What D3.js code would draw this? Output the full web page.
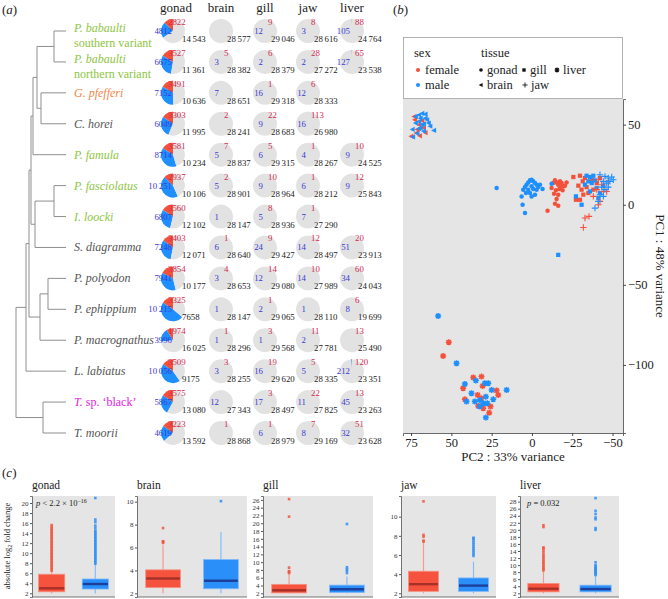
<!DOCTYPE html>
<html>
<head>
<meta charset="utf-8">
<script src="https://cdn.jsdelivr.net/npm/d3@7"></script>
<style>
  body { margin: 0; background: #fff; }
  svg, svg text { font-family: 'Liberation Serif', 'DejaVu Serif', 'Times New Roman', Times, serif; }
</style>
</head>
<body>
<svg id="fig" width="668" height="599"></svg>
<script>
/* ---------- Data: panel (a) ---------- */
const species = ['babS', 'babN', 'pfefferi', 'horei', 'famula', 'fasciolatus', 'loocki',
  'diagramma', 'polyodon', 'ephippium', 'macrognathus', 'labiatus', 'Tsp', 'moorii'];
const speciesLabels = [
  ['P. babaulti', 'southern variant'], ['P. babaulti', 'northern variant'], ['G. pfefferi'],
  ['C. horei'], ['P. famula'], ['P. fasciolatus'], ['I. loocki'], ['S. diagramma'],
  ['P. polyodon'], ['P. ephippium'], ['P. macrognathus'], ['L. labiatus'],
  ['T.', ' sp. \u2018black\u2019'], ['T. moorii']];
const speciesGroup = ['green', 'green', 'orange', 'grey', 'green', 'green', 'green',
  'grey', 'grey', 'grey', 'grey', 'grey', 'magenta', 'grey'];

// tree: d = depth from root (arbitrary units), c = children
const tree = {d: 0, c: [
  {d: 10, c: [
    {d: 13, c: [
      {d: 15, c: [
        {d: 17, c: [
          {d: 21, c: [{d: 38, c: ['babS', 'babN']}, {d: 25, c: ['pfefferi', 'horei']}]},
          'famula']},
        {d: 19, c: [{d: 38, c: ['fasciolatus', 'loocki']}, 'diagramma']}]},
      {d: 24, c: [{d: 32, c: ['polyodon', 'ephippium']}, 'macrognathus']}]},
    'labiatus']},
  {d: 27, c: ['Tsp', 'moorii']}]};
const tipDepth = 50;

const tissues = ['gonad', 'brain', 'gill', 'jaw', 'liver'];
// [female-biased, male-biased, unbiased]; null = tissue not sampled
const gonadCounts = [[2822, 4812, 14543], [3527, 6675, 11361], [3491, 7152, 10636], [3303, 6049, 11995],
  [3581, 8714, 10234], [2937, 10251, 10106], [3560, 6807, 12102], [3403, 7248, 12071],
  [3854, 7941, 10177], [3325, 10215, 7658], [1974, 3996, 16025], [3509, 10056, 9175],
  [3575, 5867, 13080], [3223, 4619, 13592]];
const brainCounts = [[0, 0, 28577], [5, 3, 28382], [0, 7, 28651], [2, 0, 28241], [7, 5, 28837],
  [2, 5, 28901], [0, 1, 28147], [1, 6, 28640], [4, 3, 28653], [0, 1, 28147], [1, 1, 28296],
  [3, 3, 28255], [0, 12, 27343], [1, 0, 28868]];
const gillCounts = [[9, 12, 29046], [6, 2, 28379], [1, 16, 29318], [22, 9, 28683], [5, 6, 29315],
  [10, 9, 28964], [8, 5, 28936], [9, 24, 29427], [14, 12, 29080], [1, 2, 29065], [3, 1, 29568],
  [19, 16, 29620], [3, 17, 28497], [1, 6, 28979]];
const jawCounts = [[8, 3, 28616], [28, 2, 27272], [6, 12, 28333], [113, 16, 26980], [1, 4, 28267],
  [1, 6, 28212], [1, 7, 27290], [12, 14, 28497], [10, 14, 27989], [0, 1, 28110], [11, 2, 27781],
  [5, 5, 28335], [22, 11, 27825], [7, 8, 29169]];
const liverCounts = [[88, 105, 24764], [65, 127, 23538], null, null, [10, 9, 24525], [12, 9, 25843],
  null, [20, 51, 23913], [60, 34, 24043], [6, 8, 19699], [13, 0, 25490], [120, 212, 23351],
  [13, 45, 23263], [51, 32, 23628]];

/* ---------- Data: panel (b) PCA, [PC2, PC1] ---------- */
const pcaGonadF = [[-12.2, 10.4], [-13.2, 13.5], [-14.3, 15.2], [-15.3, 13.9], [-16.3, 12.5], [-17.4, 14.6],
  [-18.4, 13.5], [-19.5, 11.5], [-17.0, 9.8], [-14.9, 9.0], [-19.0, 9.0], [-13.7, 6.9], [-16.3, 6.3],
  [-15.3, 3.5], [-14.3, 0.6], [-16.3, -0.6], [-9.7, -3.8], [-20.5, 11.9], [-21.5, 13.9], [-17.8, 11.0]];
const pcaGonadM = [[6.4, 5.2], [5.4, 9.4], [4.3, 11.0], [3.3, 12.5], [2.3, 13.9], [1.2, 15.2], [0.2, 15.6],
  [-0.8, 14.6], [-1.9, 13.5], [-2.9, 12.5], [-3.9, 11.0], [-5.0, 12.5], [0.2, 11.5], [2.3, 9.4], [-0.8, 9.8],
  [1.2, 7.3], [-2.9, 9.4], [3.7, 7.3], [0.2, 5.2], [-1.9, 6.3], [21.9, 10.4], [5.8, 0.0], [4.3, -5.2],
  [-12.2, 13.1], [-6.6, 9.8]];
const pcaBrainF = [[72.6, 53], [71.6, 44.8], [69.5, 43], [74.8, 42.7], [70, 50], [73, 55], [67, 48],
  [68, 52.5], [66, 45], [71, 47]];
const pcaBrainM = [[70, 52], [66, 54], [68, 50], [72, 55], [64, 51], [69, 48], [74, 47], [67, 46],
  [71, 44.5], [63, 49], [60.7, 46.4], [73.7, 42.3], [65, 53], [70, 56], [68, 57], [66, 56.5], [69, 54],
  [72, 51], [67, 50.5], [70, 47.5]];
const pcaGillF = [[-25.7, 17.3], [-29.8, 18.1], [-31.5, 14.6], [-28.8, 11.9], [-30.8, 9.4], [-31.9, 6.3],
  [-29.8, 3.1], [-27.3, 3.1], [-33.9, 11.0], [-37.1, 15.6], [-40.2, 13.5], [-42.2, 16.7], [-38.1, 9.4],
  [-32.9, 16.7], [-35.0, 7.3]];
const pcaGillM = [[-33.9, 18.1], [-36.0, 17.3], [-38.1, 18.1], [-35.0, 14.6], [-37.1, 13.5], [-39.1, 15.2],
  [-32.9, 12.5], [-40.2, 10.4], [-36.0, 8.3], [-42.2, 7.3], [-41.2, 4.2], [-27.3, 5.2], [-30.8, 0.0],
  [-16.3, -31.3], [-44.3, 11.9]];
const pcaJawF = [[-32.9, -8.3], [-31.9, -14.2], [-35.4, -7.3], [-41.2, 0.0], [-42.2, 2.1], [-40.2, 9.4],
  [-43.3, 12.5], [-46.4, 8.3], [-38.1, 5.2], [-44.3, 8.3], [-41.2, 15.6], [-47.4, 14.6]];
const pcaJawM = [[-42.2, 18.75], [-45.3, 17.7], [-47.4, 16.7], [-49.5, 17.3], [-44.3, 14.6], [-46.4, 13.5],
  [-48.4, 14.6], [-43.3, 11.0], [-45.3, 9.4], [-42.2, 6.3], [-44.3, 5.2], [-47.4, 11.0], [-41.2, 2.1],
  [-39.1, -2.1], [-50.5, 15.6]];
const pcaLiverF = [[36.4, -107.9], [31.3, -107.3], [30.6, -113.1], [42.7, -114.6], [41.6, -121.5],
  [33.7, -118.8], [33.3, -125.6], [30.2, -127.1], [26.5, -129.8], [25.7, -126.0], [21.9, -116.0],
  [20.9, -118.8], [31.3, -120.8], [51.6, -85.8], [55.1, -94.4]];
const pcaLiverM = [[41.6, -111.9], [34.8, -109.8], [37.5, -117.7], [40.6, -122.9], [29.2, -111.5],
  [27.1, -111.5], [32.3, -121.9], [28.6, -119.8], [27.7, -123.9], [25.0, -115.6], [24.0, -121.5],
  [15.7, -115.6], [28.6, -132.9], [32.3, -126.0], [35.4, -122.9], [30.2, -123.9], [58.2, -69.4],
  [46.8, -99.0]];
const pcaXTicks = [75, 50, 25, 0, -25, -50];
const pcaYTicks = [50, 0, -50, -100];

/* ---------- Data: panel (c) boxplots, [q1, median, q3, whiskerLow, whiskerHigh] ---------- */
const boxFemale = [[2.3, 3.0, 5.8, 1.95, 6.4], [2.5, 3.3, 4.05, 2.0, 6.2], [2.1, 2.8, 4.3, 2.0, 7.0],
  [2.2, 2.95, 4.3, 2.0, 7.3], [2.4, 3.3, 4.8, 2.0, 8.3]];
const boxMale = [[2.85, 3.85, 4.85, 1.95, 7.8], [2.4, 3.1, 4.95, 2.0, 7.35], [2.2, 3.05, 4.1, 2.0, 6.3],
  [2.2, 2.8, 3.6, 2.0, 5.3], [2.4, 3.2, 4.3, 2.0, 7.1]];
const outFemale = [
  [6.5, 6.8, 7.1, 7.4, 7.7, 8.0, 8.3, 8.6, 8.9, 9.2, 9.5, 9.8, 10.1, 10.4, 10.7, 11.0, 11.3, 11.6, 11.9,
   12.2, 12.5, 12.8, 13.1, 13.4, 13.7, 14.0, 14.3, 14.6, 14.9, 15.2, 15.6],
  [6.4, 6.5, 6.55, 7.7],
  [7.2, 7.5, 7.7, 8.6, 21.7, 26.2],
  [7.4, 7.5, 7.9, 8.1, 11.6],
  [8.5, 8.9, 9.3, 9.7, 10.2, 10.6, 11.0, 11.5, 12.0, 12.5, 13.0, 13.6, 14.2, 14.8, 15.0, 20.8, 21.3]];
const outMale = [
  [7.9, 8.2, 8.5, 8.8, 9.1, 9.4, 9.7, 10.0, 10.3, 10.6, 10.9, 11.2, 11.5, 11.8, 12.1, 12.4, 12.7, 13.0,
   13.3, 13.6, 13.9, 14.2, 14.5, 15.0, 15.5, 16.2, 16.7, 21.0],
  [10.05],
  [7.2, 7.8, 8.2, 8.7, 19.8],
  [5.9, 6.1, 6.3, 6.5, 6.7, 6.9, 7.1, 7.3, 7.5, 7.7, 7.8],
  [7.2, 7.5, 7.8, 8.1, 8.4, 8.7, 9.0, 9.3, 9.6, 10.0, 10.8, 20.0, 20.5, 23.0, 23.5, 24.5, 25.4, 29.0]];
const boxTickMax = [20, 10, 26, 10, 28];
const boxDomains = [[1.26, 21.4], [1.68, 10.5], [1.05, 27.0], [1.61, 12.16], [0.95, 29.6]];

/* ---------- Colours ---------- */
const col = {
  red: '#f4513b', blue: '#1e8fff', pieGrey: '#e2e2e2', panel: '#e5e5e5',
  redText: '#d42a4e', blueText: '#3b3bd2', text: '#222',
  green: '#8dc63f', orange: '#f0874a', grey: '#555', magenta: '#e21be2'
};
const serif = "'Liberation Serif', 'DejaVu Serif', 'Times New Roman', Times, serif";

const svg = d3.select('#fig').attr('font-family', serif);

/* ======================= (a) ======================= */
svg.append('text').attr('x', 2).attr('y', 14).attr('font-size', 13).attr('fill', col.text)
  .html('(<tspan font-style="italic">a</tspan>)');

const rowY = d3.scalePoint().domain(species).range([31, 433]);
const treeX = d3.scaleLinear().domain([0, tipDepth]).range([16, 66]);
const treeG = svg.append('g').attr('stroke', '#8f8f8f').attr('stroke-width', 1).attr('fill', 'none');

// returns y of the node, draws its branches
function drawNode(node) {
  if (typeof node === 'string') return rowY(node);
  const ys = node.c.map(ch => {
    const y = drawNode(ch);
    const childX = typeof ch === 'string' ? treeX(tipDepth) : treeX(ch.d);
    treeG.append('line').attr('x1', treeX(node.d)).attr('x2', childX).attr('y1', y).attr('y2', y);
    return y;
  });
  treeG.append('line').attr('x1', treeX(node.d)).attr('x2', treeX(node.d))
    .attr('y1', d3.min(ys)).attr('y2', d3.max(ys));
  return (d3.min(ys) + d3.max(ys)) / 2;
}
drawNode(tree);

// species labels
const labelSize = 12;
species.forEach((s, i) => {
  const lines = speciesLabels[i];
  const t = svg.append('text').attr('x', 74).attr('font-size', labelSize)
    .attr('fill', col[speciesGroup[i]]);
  if (s === 'Tsp') {
    t.attr('y', rowY(s) + 4);
    t.append('tspan').attr('font-style', 'italic').text(lines[0]);
    t.append('tspan').text(lines[1]);
  } else if (lines.length === 2) {
    t.attr('y', rowY(s) + 1).attr('font-style', 'italic').text(lines[0]);
    svg.append('text').attr('x', 74).attr('y', rowY(s) + 16).attr('font-size', labelSize)
      .attr('fill', col[speciesGroup[i]]).text(lines[1]);
  } else {
    t.attr('y', rowY(s) + 4).attr('font-style', 'italic').text(lines[0]);
  }
});

// pies
const colCenter = {gonad: 173, brain: 221, gill: 265, jaw: 308, liver: 352};
const countsBy = {gonad: gonadCounts, brain: brainCounts, gill: gillCounts, jaw: jawCounts, liver: liverCounts};
const pie = d3.pie().sort(null).startAngle(0).endAngle(-2 * Math.PI);
const arc = d3.arc().innerRadius(0).outerRadius(12);
const fmt = n => n >= 10000 ? d3.format(',')(n).replace(',', '\u2009') : String(n);
const numSize = 8.8;

tissues.forEach(t => {
  const cx = colCenter[t];
  svg.append('text').attr('x', cx + (t === 'gonad' ? 3 : 0)).attr('y', 12).attr('text-anchor', 'middle')
    .attr('font-size', 13).attr('fill', col.text).text(t);
  countsBy[t].forEach((c, i) => {
    if (!c) return;
    const cy = rowY(species[i]);
    const g = svg.append('g').attr('transform', `translate(${cx},${cy})`);
    g.selectAll('path').data(pie(c)).join('path')
      .attr('d', arc)
      .attr('fill', (d, k) => [col.red, col.blue, col.pieGrey][k]);
    const gon = t === 'gonad';
    if (c[0] > 0) g.append('text').attr('x', gon ? -5 : 3).attr('y', -6)
      .attr('font-size', numSize).attr('fill', col.redText).text(fmt(c[0]));
    if (c[1] > 0) g.append('text').attr('x', gon ? -1 : -2).attr('y', 3).attr('text-anchor', 'end')
      .attr('font-size', numSize).attr('fill', col.blueText).text(fmt(c[1]));
    g.append('text').attr('x', gon ? 9 : 6).attr('y', 11)
      .attr('font-size', numSize).attr('fill', col.text).text(fmt(c[2]));
  });
});

/* ======================= (b) ======================= */
svg.append('text').attr('x', 393).attr('y', 14).attr('font-size', 13).attr('fill', col.text)
  .html('(<tspan font-style="italic">b</tspan>)');

const pL = 403, pR = 623, pT = 99, pB = 433;
const px = d3.scaleLinear().domain([80, -56.5]).range([pL, pR]);
const py = d3.scaleLinear().domain([66, -142.5]).range([pT, pB]);

svg.append('rect').attr('x', pL).attr('y', pT).attr('width', pR - pL).attr('height', pB - pT)
  .attr('fill', col.panel);

// legend box
const lg = svg.append('g');
lg.append('rect').attr('x', pL + 0.5).attr('y', 37.5).attr('width', pR - pL - 1).attr('height', pT - 38)
  .attr('fill', '#fff').attr('stroke', '#a0a0a0').attr('stroke-width', 0.8);
const lt = (x, y, s) => lg.append('text').attr('x', x).attr('y', y).attr('font-size', 12.5)
  .attr('fill', col.text).text(s);
lt(414, 57, 'sex');
lt(481, 57, 'tissue');
lg.append('circle').attr('cx', 418).attr('cy', 70).attr('r', 2).attr('fill', col.red);
lt(425, 74, 'female');
lg.append('circle').attr('cx', 418).attr('cy', 85).attr('r', 2).attr('fill', col.blue);
lt(425, 89, 'male');

const symPath = {
  gonad: d3.symbol(d3.symbolCircle, 16)(),
  brain: 'M-3,0L2,-2.6L2,2.6Z',
  gill: d3.symbol(d3.symbolSquare, 18)(),
  jaw: 'M-3.2,0H3.2M0,-3.2V3.2',
  liver: 'M-3,0H3M0,-3V3M-2.2,-2.2L2.2,2.2M-2.2,2.2L2.2,-2.2'
};
const isStroke = t => t === 'jaw' || t === 'liver';
function sym(sel, t, fill) {
  return sel.attr('d', symPath[t])
    .attr('fill', isStroke(t) ? 'none' : fill)
    .attr('stroke', isStroke(t) ? fill : 'none')
    .attr('stroke-width', t === 'liver' ? 1.5 : 1.1);
}
const legendSym = [['gonad', 481, 70], ['gill', 524, 70], ['liver', 557, 70], ['brain', 481, 85], ['jaw', 525, 85]];
legendSym.forEach(([t, x, y]) => {
  sym(lg.append('path').attr('transform', `translate(${x},${y}) scale(0.8)`), t, '#111');
  lt(x + 6, y + 4, t);
});

// points
const pcaSets = [
  ['gonad', pcaGonadF, col.red], ['gonad', pcaGonadM, col.blue],
  ['brain', pcaBrainF, col.red], ['brain', pcaBrainM, col.blue],
  ['gill', pcaGillF, col.red], ['gill', pcaGillM, col.blue],
  ['jaw', pcaJawF, col.red], ['jaw', pcaJawM, col.blue],
  ['liver', pcaLiverF, col.red], ['liver', pcaLiverM, col.blue]];
const ptsG = svg.append('g');
pcaSets.forEach(([t, pts, c]) => {
  ptsG.append('g').selectAll('path').data(pts).join('path')
    .attr('transform', d => `translate(${px(d[0])},${py(d[1])})`)
    .call(sel => sym(sel, t, c));
});

// axes
const yAx = svg.append('g').attr('transform', `translate(${pR},0)`)
  .call(d3.axisRight(py).tickValues(pcaYTicks).tickSize(3).tickPadding(2));
const xAx = svg.append('g').attr('transform', `translate(0,${pB})`)
  .call(d3.axisBottom(px).tickValues(pcaXTicks).tickSize(3).tickPadding(2));
[yAx, xAx].forEach(a => {
  a.attr('font-family', serif);
  a.select('.domain').attr('stroke', '#444').attr('stroke-width', 0.8);
  a.selectAll('.tick line').attr('stroke', '#444');
  a.selectAll('.tick text').attr('font-size', 12.5).attr('fill', col.text);
});
svg.append('text').attr('transform', `translate(656,${(pT + pB) / 2}) rotate(90)`)
  .attr('text-anchor', 'middle').attr('font-size', 13).attr('fill', col.text).text('PC1 : 48% variance');
svg.append('text').attr('x', (pL + pR) / 2).attr('y', 461).attr('text-anchor', 'middle')
  .attr('font-size', 13).attr('fill', col.text).text('PC2 : 33% variance');

/* ======================= (c) ======================= */
svg.append('text').attr('x', 2).attr('y', 477).attr('font-size', 13).attr('fill', col.text)
  .html('(<tspan font-style="italic">c</tspan>)');

const boxPanels = [[32, 115], [137, 247], [263, 373], [401, 496], [520, 619]];
const bT = 496, bB = 597;
const boxCol = {
  F: {fill: '#f5533d', edge: '#f7907f', med: '#a83028', whisk: '#f59a8c'},
  M: {fill: '#2a8ff8', edge: '#7fb9fb', med: '#1d3f9c', whisk: '#86bdf9'}
};

tissues.forEach((t, i) => {
  const [x0, x1] = boxPanels[i];
  const g = svg.append('g');
  const y = d3.scaleLinear().domain(boxDomains[i]).range([bB, bT]);
  const x = d3.scaleBand().domain(['F', 'M']).range([x0, x1]).paddingInner(0.4).paddingOuter(0.15);
  g.append('rect').attr('x', x0).attr('y', bT).attr('width', x1 - x0).attr('height', bB - bT)
    .attr('fill', col.panel);
  g.append('text').attr('x', x0).attr('y', 489).attr('font-size', 11.5).attr('fill', col.text).text(t);

  const ax = g.append('g').attr('transform', `translate(${x0},0)`)
    .call(d3.axisLeft(y).tickValues(d3.range(2, boxTickMax[i] + 1, 2)).tickSize(2).tickPadding(1.5));
  ax.attr('font-family', serif);
  ax.select('.domain').attr('stroke', '#555').attr('stroke-width', 0.8);
  ax.selectAll('.tick line').attr('stroke', '#555');
  ax.selectAll('.tick text').attr('font-size', 7).attr('fill', '#333');
  g.append('line').attr('x1', x0).attr('x2', x1).attr('y1', bB).attr('y2', bB)
    .attr('stroke', '#555').attr('stroke-width', 0.8);

  [['F', boxFemale[i], outFemale[i]], ['M', boxMale[i], outMale[i]]].forEach(([s, b, outs]) => {
    const c = boxCol[s];
    const cx = x(s) + x.bandwidth() / 2;
    g.append('line').attr('x1', cx).attr('x2', cx).attr('y1', y(b[4])).attr('y2', y(b[2]))
      .attr('stroke', c.whisk).attr('stroke-width', 1.2);
    g.append('line').attr('x1', cx).attr('x2', cx).attr('y1', y(b[0])).attr('y2', y(b[3]))
      .attr('stroke', c.whisk).attr('stroke-width', 1.2);
    g.append('rect').attr('x', x(s)).attr('width', x.bandwidth())
      .attr('y', y(b[2])).attr('height', y(b[0]) - y(b[2]))
      .attr('fill', c.fill).attr('stroke', c.edge).attr('stroke-width', 0.8);
    g.append('line').attr('x1', x(s) + 0.5).attr('x2', x(s) + x.bandwidth() - 0.5)
      .attr('y1', y(b[1])).attr('y2', y(b[1])).attr('stroke', c.med).attr('stroke-width', 2.4);
    g.selectAll(null).data(outs).join('rect')
      .attr('x', cx - 1.3).attr('y', d => y(d) - 1.3).attr('width', 2.6).attr('height', 2.6)
      .attr('fill', c.fill).attr('opacity', 0.85);
  });
});

// gonad y title and p-values
svg.append('text').attr('transform', 'translate(10,546) rotate(-90)').attr('text-anchor', 'middle')
  .attr('font-size', 8.5).attr('fill', col.text)
  .html('absolute log<tspan font-size="6" dy="2">2</tspan><tspan dy="-2"> fold change</tspan>');
svg.append('text').attr('x', 36).attr('y', 506).attr('font-size', 8.5).attr('fill', col.text)
  .html('<tspan font-style="italic">p</tspan> &lt; 2.2 \u00d7 10<tspan font-size="6" dy="-3.5">\u221216</tspan>');
svg.append('text').attr('x', 527).attr('y', 506).attr('font-size', 8.5).attr('fill', col.text)
  .html('<tspan font-style="italic">p</tspan> = 0.032');
</script>
</body>
</html>
